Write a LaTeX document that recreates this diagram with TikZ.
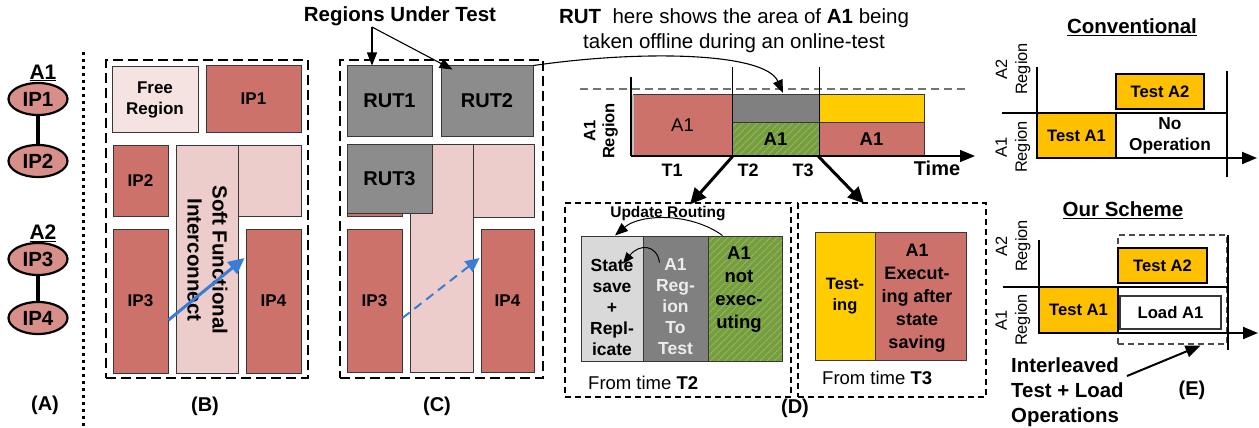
\documentclass[tikz,border=0pt]{standalone}
\usepackage{fontspec}
\setmainfont{Liberation Sans}
\usetikzlibrary{arrows.meta,calc,patterns.meta,shapes.geometric}

\definecolor{ipred}{RGB}{205,113,107}
\definecolor{ellred}{RGB}{216,142,137}
\definecolor{freepink}{RGB}{245,227,226}
\definecolor{sfipink}{RGB}{236,205,204}
\definecolor{rutgray}{RGB}{140,140,140}
\definecolor{midgray}{RGB}{128,128,128}
\definecolor{palegray}{RGB}{217,217,217}
\definecolor{hatchgreen}{RGB}{118,158,62}
\definecolor{hatchline}{RGB}{152,188,104}
\definecolor{goldD}{RGB}{255,204,0}
\definecolor{goldE}{RGB}{255,192,0}
\definecolor{arrowblue}{RGB}{58,125,214}
\definecolor{edge}{RGB}{55,55,55}
\definecolor{softwhite}{RGB}{236,236,236}

\newcommand{\fsz}[2]{\fontsize{#1}{#2}\selectfont}

\begin{document}
\begin{tikzpicture}[x=1pt,y=-1pt,
  blk/.style={draw=edge, line width=1pt, inner sep=0pt, align=center, font=\fsz{17}{21}\bfseries},
  ipbox/.style={blk, fill=ipred},
  freebox/.style={blk, fill=freepink},
  sfibox/.style={blk, fill=sfipink},
  rutbox/.style={blk, fill=rutgray, font=\fsz{20}{24}\bfseries},
  hatched/.style={preaction={fill=hatchgreen}, pattern={Lines[angle=45,distance=5pt,line width=0.7pt]}, pattern color=hatchline},
  ipell/.style={ellipse, draw=black, line width=2.2pt, fill=ellred, minimum width=59pt, minimum height=32pt, inner sep=0pt, font=\fsz{20.5}{24}\bfseries},
  ttl/.style={font=\fsz{21}{25}\bfseries, inner sep=0pt},
  lbl/.style={font=\fsz{20}{24}\bfseries, inner sep=0pt},
  frameB/.style={draw=black, line width=2pt, dash pattern=on 10pt off 5pt, inner sep=0pt},
  frameD/.style={draw=black, line width=1.2pt, dash pattern=on 6pt off 4pt, inner sep=0pt},
  frameE/.style={draw=black!70, line width=1.2pt, dash pattern=on 6pt off 4pt, inner sep=0pt},
  thinarrow/.style={line width=1.1pt, -{Triangle[length=13pt,width=10pt]}},
  thickarrow/.style={line width=3pt, -{Triangle[length=16pt,width=15pt]}},
  bluearrow/.style={draw=arrowblue, line width=3pt, -{Triangle[length=16pt,width=15pt]}},
  bluedash/.style={draw=arrowblue, line width=2pt, dash pattern=on 9pt off 6pt, -{Triangle[length=14pt,width=13pt]}},
  axis/.style={draw=black, line width=1.4pt},
  eaxis/.style={draw=black, line width=2pt},
  ebox/.style={draw=black, line width=2pt, fill=goldE, inner sep=0pt, font=\fsz{16.6}{20}\bfseries},
  dtext/.style={inner sep=0pt, align=center, font=\fsz{17.5}{21}\bfseries},
  rot/.style={inner sep=0pt, align=center, rotate=90},
]
\useasboundingbox (0,0) rectangle (1259,428);

% ---------- (A) applications as IP graphs ----------
\node[ttl] (a1title) at (43,73) {\underline{A1}};
\node[ipell] (ip1A) at (38,99) {IP1};
\node[ipell] (ip2A) at (38,161) {IP2};
\draw[line width=4pt] (ip1A) -- (ip2A);
\node[ttl] (a2title) at (43,233) {\underline{A2}};
\node[ipell] (ip3A) at (38,259) {IP3};
\node[ipell] (ip4A) at (38,318) {IP4};
\draw[line width=4pt] (ip3A) -- (ip4A);
\node[lbl] (capA) at (45,405) {(A)};
\draw[line width=3pt, dash pattern=on 3pt off 4pt] (83,52) -- (83,428);

% ---------- (B) floorplan ----------
\node[frameB, minimum width=202pt, minimum height=318pt] (frB) at (207,219) {};
\node[freebox, minimum width=86pt, minimum height=65pt] (freeB) at (155,99.5) {Free\\Region};
\node[ipbox, minimum width=95pt, minimum height=66pt] (ip1B) at (253.5,99) {IP1};
\node[ipbox, minimum width=55pt, minimum height=71pt] (ip2B) at (140.5,180.5) {IP2};
\node[sfibox, minimum width=62pt, minimum height=228pt] (sfiB) at (207,259) {};
\node[sfibox, minimum width=63pt, minimum height=71pt] (prB) at (269.5,180.5) {};
\node[ipbox, minimum width=55pt, minimum height=144pt] (ip3B) at (140.5,301) {IP3};
\node[ipbox, minimum width=55pt, minimum height=144pt] (ip4B) at (273.5,301) {IP4};
\node[inner sep=0pt, align=center, rotate=-90, font=\fsz{20.5}{25}\bfseries] (sfiT) at (207.5,260) {Soft Functional\\Interconnect};
\draw[bluearrow] ($(ip3B.east)+(0,19)$) -- ($(ip4B.west)+(-1,-43)$);
\node[lbl] (capB) at (205,406) {(B)};

% ---------- (C) floorplan with regions under test ----------
\node[frameB, minimum width=203pt, minimum height=318pt] (frC) at (441.5,219) {};
\node[rutbox, minimum width=85pt, minimum height=70pt] (rut1) at (389.5,101) {RUT1};
\node[rutbox, minimum width=92pt, minimum height=70pt] (rut2) at (487,101) {RUT2};
\node[ipbox, minimum width=55pt, minimum height=72pt] (ip2C) at (374.5,180) {};
\node[sfibox, minimum width=63pt, minimum height=228pt] (sfiC) at (441.5,258) {};
\node[sfibox, minimum width=61pt, minimum height=73pt] (prC) at (503.5,180.5) {};
\node[rutbox, minimum width=85pt, minimum height=69pt] (rut3) at (389.5,178.5) {RUT3};
\node[ipbox, minimum width=55pt, minimum height=143pt] (ip3C) at (374.5,300.5) {IP3};
\node[ipbox, minimum width=53pt, minimum height=143pt] (ip4C) at (507.5,300.5) {IP4};
\draw[bluedash] ($(ip3C.east)+(0,17.5)$) -- ($(ip4C.west)+(-1,-42.5)$);
\node[lbl] (capC) at (437,406) {(C)};

\node[font=\fsz{20.5}{25}\bfseries, inner sep=0pt] (rutlbl) at (400,16) {Regions Under Test};
\coordinate (fork) at (372,27);
\draw[thinarrow] (fork) -- (fork |- rut1.north);
\draw[thinarrow] (fork) -- ($(rut2.north west)+(12,4)$);

% ---------- (D) timeline ----------
\node[inner sep=0pt, align=center, font=\fsz{20.5}{25}] (rutnote) at (734,31) {\textbf{RUT}\ \ here shows the area of \textbf{A1} being\\taken offline during an online-test};

\draw[draw=black!55, line width=1.4pt, dash pattern=on 8pt off 5pt] (580,89) -- (965,89);
\node[blk, fill=ipred, minimum width=99pt, minimum height=61pt, font=\fsz{18.5}{22}] (a1T1) at (682.5,125.5) {A1};
\node[blk, fill=midgray, minimum width=87pt, minimum height=27pt] (grayT2) at (775.5,108.5) {};
\node[blk, hatched, minimum width=87pt, minimum height=34pt, font=\fsz{18.5}{22}\bfseries] (greenT2) at (775.5,139) {A1};
\node[blk, fill=goldD, minimum width=105pt, minimum height=27pt] (yelT3) at (871.5,108.5) {};
\node[blk, fill=ipred, minimum width=105pt, minimum height=34pt, font=\fsz{18.5}{22}\bfseries] (redT3) at (871.5,139) {A1};
\draw[draw=black!25, line width=2pt] (632.5,95) -- (632.5,156);
\draw[axis] (631,77) -- (631,156);
\draw[axis, -{Triangle[length=15pt,width=12pt]}] (631,156) -- (975,156);
\draw[line width=1pt] (732,67) -- (732,156);
\draw[line width=1pt] (819,67) -- (819,156);
\node[rot, font=\fsz{16.5}{19}\bfseries] (a1reg) at (601,131) {A1\\Region};
\node[lbl, font=\fsz{18}{22}\bfseries] (t1) at (672,170) {T1};
\node[lbl, font=\fsz{18}{22}\bfseries] (t2) at (748,170) {T2};
\node[lbl, font=\fsz{18}{22}\bfseries] (t3) at (803,170) {T3};
\node[lbl, font=\fsz{20}{24}\bfseries] (time) at (937,168) {Time};

\coordinate (rutTip) at (783,93);
\draw[thinarrow] (rut2.north east) .. controls (640,50) and (765,52) .. (rutTip);

% state after T2
\node[frameD, minimum width=226pt, minimum height=194pt] (frT2) at (678,300) {};
\node[blk, fill=palegray, minimum width=62pt, minimum height=125pt] (stateB) at (612,298.5) {};
\node[blk, fill=midgray, minimum width=65pt, minimum height=125pt] (rutB) at (675.5,298.5) {};
\node[blk, hatched, minimum width=74pt, minimum height=125pt] (notB) at (745,298.5) {};
\node[dtext] (stateT) at (612,307) {State\\save\\+\\Repl-\\icate};
\node[dtext, text=softwhite] (rutT) at (675.5,307) {A1\\Reg-\\ion\\To\\Test};
\node[dtext, font=\fsz{18.5}{23}\bfseries] (notT) at (739,290) {A1\\not\\exec-\\uting};
\node[font=\fsz{15.5}{18}\bfseries, inner sep=0pt] (updT) at (668,214) {Update Routing};
\draw[line width=1pt, -{Triangle[length=13pt,width=10pt]}] ($(notB.north west)+(15,0)$) .. controls (690,212) and (640,214) .. ($(stateB.north)+(3,0)$);
\draw[line width=1pt, -{Triangle[length=11pt,width=9pt]}] ($(rutB.north west)+(17,27)$) .. controls (657,245) and (640,243) .. ($(stateB.north)+(11,28)$);
\node[anchor=west, inner sep=0pt, font=\fsz{18.5}{22}] (fromT2) at (588,383) {From time \textbf{T2}};

% state after T3
\node[frameD, minimum width=188pt, minimum height=194pt] (frT3) at (892,300) {};
\node[blk, fill=goldD, minimum width=60pt, minimum height=128pt, font=\fsz{16.5}{21}\bfseries] (testB) at (845,296) {Test-\\ing};
\node[blk, fill=ipred, minimum width=91pt, minimum height=128pt] (execB) at (920.5,296) {};
\node[dtext, font=\fsz{18}{23}\bfseries] (execT) at (917,298) {A1\\Execut-\\ing after\\state\\saving};
\node[anchor=west, inner sep=0pt, font=\fsz{18.5}{22}] (fromT3) at (822,378) {From time \textbf{T3}};

\draw[thickarrow] (a1T1.south east) -- ($(frT2.north)+(12,2)$);
\draw[thickarrow] (redT3.south west) -- ($(frT3.north)+(-28,1)$);
\node[lbl] (capD) at (795,408) {(D)};

% ---------- (E) conventional vs interleaved ----------
\node[ttl, font=\fsz{20.5}{24}\bfseries] (convT) at (1132,27) {\underline{Conventional}};
\node[ebox, minimum width=79pt, minimum height=45pt] (ta1c) at (1076.5,135.5) {Test A1};
\node[ebox, minimum width=88pt, minimum height=35pt] (ta2c) at (1160,91.5) {Test A2};
\draw[line width=1.4pt] (1037,67) -- (1037,158);
\draw[eaxis] (1002,113) -- (1227,113);
\draw[eaxis, -{Triangle[length=15pt,width=12pt]}] (1037,158) -- (1257,158);
\draw[eaxis] (1227,71) -- (1227,177);
\node[inner sep=0pt, align=center, font=\fsz{17.3}{21}\bfseries] (noop) at (1170,136) {No\\Operation};
\node[rot, font=\fsz{16.4}{20}] (a2regc) at (1013,69) {A2\\Region};
\node[rot, font=\fsz{16.4}{20}] (a1regc) at (1013,147) {A1\\Region};

\node[ttl, font=\fsz{20.5}{24}\bfseries] (oursT) at (1123,210) {\underline{Our Scheme}};
\node[frameE, minimum width=109pt, minimum height=109pt] (dashE) at (1172.5,289.5) {};
\node[ebox, minimum width=79pt, minimum height=46pt] (ta1o) at (1078.5,310) {Test A1};
\node[ebox, minimum width=89pt, minimum height=35pt] (ta2o) at (1162.5,265.5) {Test A2};
\node[draw=edge, line width=1.5pt, fill=white, inner sep=0pt, minimum width=101pt, minimum height=33pt, font=\fsz{16.7}{20}\bfseries] (loadA1) at (1170.5,312.5) {Load A1};
\draw[line width=1.4pt] (1039,240) -- (1039,333);
\draw[eaxis] (1003,287) -- (1228,287);
\draw[eaxis, -{Triangle[length=15pt,width=12pt]}] (1039,333) -- (1258,333);
\draw[eaxis] (1228,235) -- (1228,350);
\node[rot, font=\fsz{16.4}{20}] (a2rego) at (1013,246) {A2\\Region};
\node[rot, font=\fsz{16.4}{20}] (a1rego) at (1013,320) {A1\\Region};

\node[anchor=west, inner sep=0pt, align=left, font=\fsz{20.4}{25}\bfseries] (intl) at (1011,392) {Interleaved\\Test + Load\\Operations};
\coordinate (intlArrow) at (1127,376);
\draw[line width=2pt, -{Triangle[length=15pt,width=12pt]}] (intlArrow) -- ($(dashE.south)+(28,1)$);
\node[lbl] (capE) at (1192,390) {(E)};
\end{tikzpicture}
\end{document}
